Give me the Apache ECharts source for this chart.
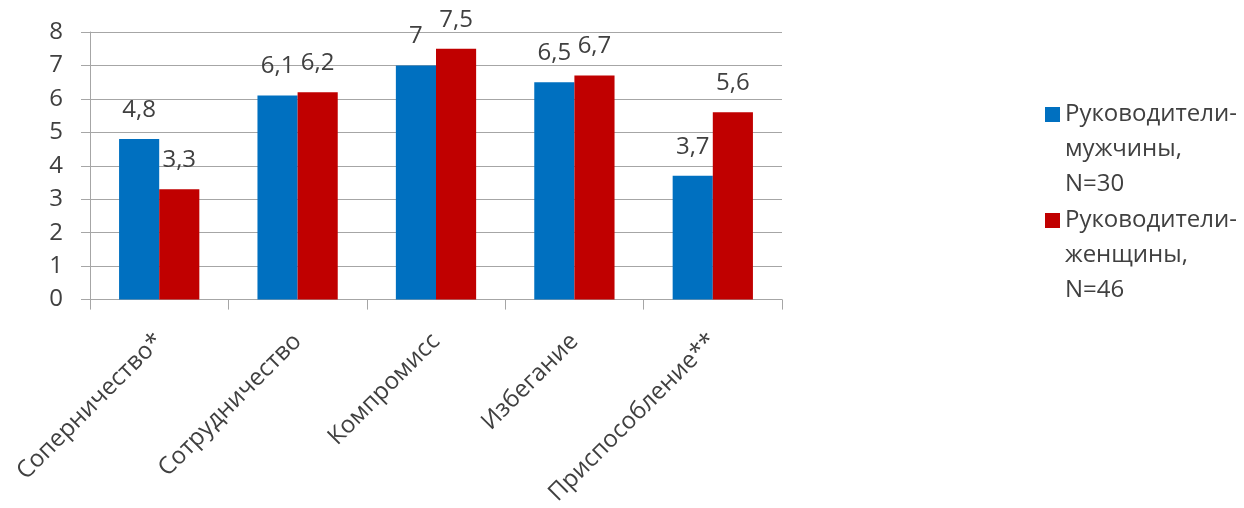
<!DOCTYPE html>
<html><head><meta charset="utf-8">
<script src="https://cdn.jsdelivr.net/npm/echarts@6/dist/echarts.min.js"></script>
<style>html,body{margin:0;padding:0;background:#fff}#c{width:1244px;height:508px}</style>
</head><body><div id="c"></div>
<script>
const categories = ['Соперничество*', 'Сотрудничество', 'Компромисс', 'Избегание', 'Приспособление**'];
const menValues = [4.8, 6.1, 7, 6.5, 3.7];
const womenValues = [3.3, 6.2, 7.5, 6.7, 5.6];
const seriesNames = ['Руководители-\nмужчины,\nN=30', 'Руководители-\nженщины,\nN=46'];
const yTicks = [0, 1, 2, 3, 4, 5, 6, 7, 8];

const FONT = 'Open Sans';
const TXT = '#404040';
const GRID = '#a6a6a6';
const FS = 24;
const labelFmt = p => String(p.value).replace('.', ',');

function legendFor(name, top) {
  return {
    left: 1040, top: top, orient: 'vertical',
    data: [name], icon: 'rect', itemWidth: 15, itemHeight: 15, itemGap: 0,
    selectedMode: false,
    formatter: n => '\n\n' + n,
    textStyle: { fontFamily: FONT, fontSize: FS, color: TXT, lineHeight: 35 }
  };
}

const chart = echarts.init(document.getElementById('c'), null, { renderer: 'canvas' });
chart.setOption({
  animation: false,
  textStyle: { fontFamily: FONT },
  grid: { left: 90, right: 462, top: 32, bottom: 208, containLabel: false },
  legend: [legendFor(seriesNames[0], 22), legendFor(seriesNames[1], 128)],
  xAxis: {
    type: 'category', data: categories,
    axisLine: { lineStyle: { color: GRID } },
    axisTick: { show: true, length: 10, alignWithLabel: false, lineStyle: { color: GRID } },
    axisLabel: { rotate: 45, margin: 38, fontFamily: FONT, fontSize: FS, color: TXT, interval: 0 }
  },
  yAxis: {
    type: 'value', min: yTicks[0], max: yTicks[yTicks.length - 1], interval: 1,
    axisLine: { show: true, lineStyle: { color: GRID } },
    axisTick: { show: true, length: 9, lineStyle: { color: GRID } },
    splitLine: { show: true, lineStyle: { color: GRID } },
    axisLabel: { margin: 27, fontFamily: FONT, fontSize: FS, color: TXT }
  },
  series: [
    { name: seriesNames[0], type: 'bar', data: menValues, barGap: '0%', barCategoryGap: '42%',
      itemStyle: { color: '#0070C0' },
      label: { show: true, position: 'top', distance: 17, formatter: labelFmt, fontFamily: FONT, fontSize: FS, color: TXT } },
    { name: seriesNames[1], type: 'bar', data: womenValues, barGap: '0%', barCategoryGap: '42%',
      itemStyle: { color: '#C00000' },
      label: { show: true, position: 'top', distance: 17, formatter: labelFmt, fontFamily: FONT, fontSize: FS, color: TXT } }
  ]
});
</script></body></html>
